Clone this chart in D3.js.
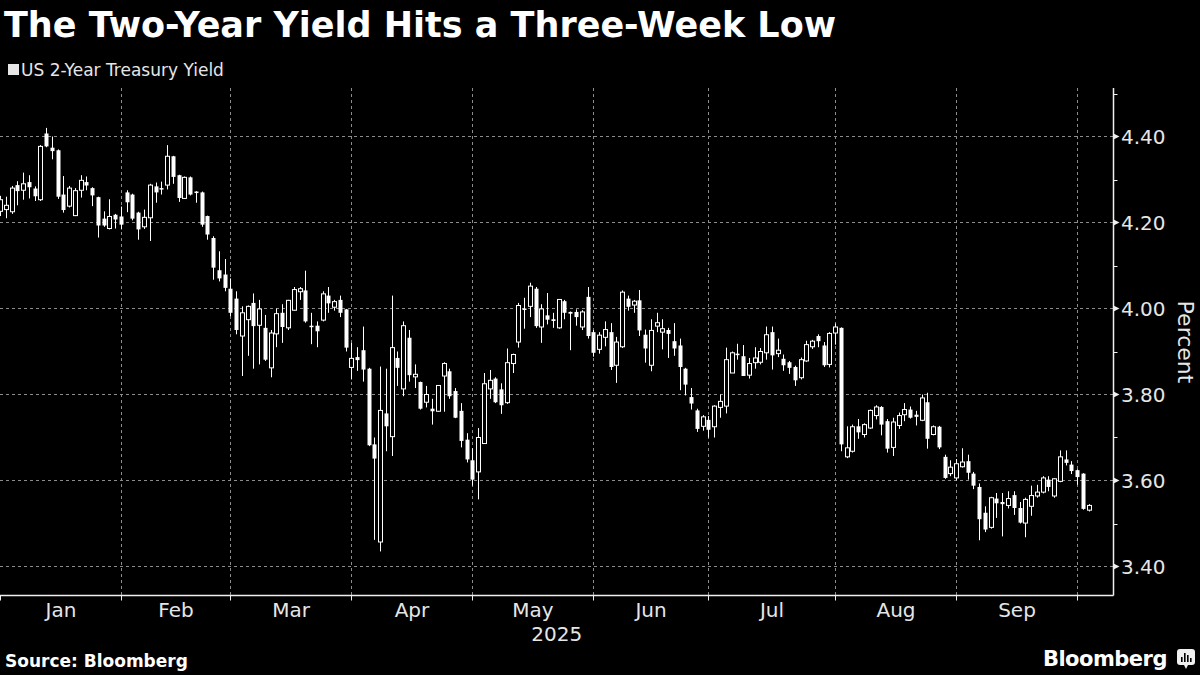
<!DOCTYPE html>
<html>
<head>
<meta charset="utf-8">
<script src="https://cdn.jsdelivr.net/npm/d3@7"></script>
<style>
  body { margin: 0; background: #000; }
  svg { display: block; }
  text { font-family: "DejaVu Sans", sans-serif; fill: #e6e6e6; }
</style>
</head>
<body>
<svg id="chart"></svg>
<script>
// trading days: weekdays from Dec 31 2024 to Oct 2 2025, minus these holidays
var firstDay = "2024-12-31"
var lastDay = "2025-10-02"
var holidays = ["2025-01-01", "2025-01-20", "2025-02-17", "2025-04-18",
  "2025-05-26", "2025-06-19", "2025-07-04", "2025-09-01"]

var monthLabels = ["Jan", "Feb", "Mar", "Apr", "May", "Jun", "Jul", "Aug", "Sep"]
var yTicks = [3.40, 3.60, 3.80, 4.00, 4.20, 4.40]
var yMinorTicks = [3.50, 3.70, 3.90, 4.10, 4.30, 4.50]

// OHLC, one value per trading day
var open = [
  4.226, 4.230, 4.225, 4.287, 4.275, 4.294, 4.279, 4.253, 4.407, 4.374,
  4.368, 4.265, 4.238, 4.216, 4.275, 4.294, 4.280, 4.259, 4.209, 4.186,
  4.218, 4.214, 4.270, 4.265, 4.223, 4.190, 4.211, 4.284, 4.280, 4.287,
  4.354, 4.310, 4.256, 4.305, 4.272, 4.270, 4.215, 4.164, 4.089, 4.079,
  4.046, 4.023, 3.936, 3.974, 4.013, 3.961, 3.955, 3.862, 3.941, 3.990,
  3.955, 3.996, 4.039, 4.042, 3.960, 3.960, 3.973, 4.030, 4.003, 4.020,
  3.998, 3.863, 3.887, 3.903, 3.860, 3.684, 3.457, 3.756, 3.702, 3.885,
  3.813, 3.932, 3.841, 3.829, 3.782, 3.767, 3.761, 3.843, 3.854, 3.808,
  3.762, 3.695, 3.647, 3.620, 3.686, 3.813, 3.837, 3.812, 3.781, 3.872,
  3.922, 4.000, 4.005, 4.046, 3.957, 3.984, 3.975, 3.955, 4.017, 3.992,
  3.992, 3.957, 4.027, 3.945, 3.905, 3.933, 3.945, 3.868, 3.911, 4.023,
  4.008, 4.019, 3.939, 3.868, 3.959, 3.945, 3.950, 3.924, 3.914, 3.860,
  3.794, 3.763, 3.726, 3.741, 3.725, 3.770, 3.773, 3.850, 3.895, 3.889,
  3.845, 3.874, 3.875, 3.897, 3.945, 3.895, 3.883, 3.875, 3.864, 3.839,
  3.878, 3.911, 3.936, 3.914, 3.870, 3.943, 3.955, 3.655, 3.668, 3.726,
  3.707, 3.722, 3.751, 3.771, 3.738, 3.677, 3.728, 3.753, 3.765, 3.753,
  3.740, 3.782, 3.707, 3.725, 3.655, 3.616, 3.606, 3.632, 3.645, 3.616,
  3.585, 3.525, 3.491, 3.558, 3.550, 3.542, 3.566, 3.536, 3.501, 3.540,
  3.564, 3.573, 3.602, 3.564, 3.598, 3.649, 3.637, 3.624, 3.616, 3.531
]
var high = [
  4.262, 4.260, 4.285, 4.296, 4.316, 4.310, 4.284, 4.380, 4.420, 4.400,
  4.370, 4.308, 4.285, 4.280, 4.310, 4.307, 4.282, 4.260, 4.226, 4.254,
  4.220, 4.237, 4.275, 4.267, 4.225, 4.230, 4.290, 4.293, 4.295, 4.380,
  4.355, 4.311, 4.307, 4.307, 4.273, 4.272, 4.216, 4.168, 4.133, 4.115,
  4.070, 4.040, 4.005, 4.007, 4.035, 4.020, 3.985, 3.950, 4.000, 4.010,
  4.020, 4.050, 4.050, 4.088, 3.990, 3.970, 4.040, 4.050, 4.020, 4.030,
  3.999, 3.920, 3.910, 3.958, 3.862, 3.700, 3.865, 3.860, 4.030, 3.900,
  3.970, 3.950, 3.870, 3.830, 3.820, 3.790, 3.822, 3.875, 3.860, 3.815,
  3.780, 3.710, 3.675, 3.722, 3.850, 3.857, 3.840, 3.826, 3.907, 3.895,
  4.013, 4.025, 4.060, 4.050, 4.010, 4.036, 3.990, 4.022, 4.020, 3.993,
  3.998, 3.996, 4.050, 3.950, 3.945, 3.970, 3.966, 3.934, 4.042, 4.030,
  4.020, 4.043, 3.951, 3.975, 3.990, 3.975, 3.955, 3.966, 3.930, 3.862,
  3.815, 3.767, 3.752, 3.750, 3.775, 3.800, 3.909, 3.900, 3.918, 3.915,
  3.885, 3.910, 3.908, 3.958, 3.958, 3.930, 3.893, 3.878, 3.867, 3.886,
  3.925, 3.927, 3.940, 3.922, 3.945, 3.965, 3.956, 3.726, 3.730, 3.743,
  3.733, 3.765, 3.775, 3.773, 3.743, 3.746, 3.758, 3.780, 3.772, 3.762,
  3.800, 3.804, 3.728, 3.727, 3.660, 3.647, 3.650, 3.675, 3.660, 3.620,
  3.593, 3.540, 3.562, 3.571, 3.571, 3.575, 3.575, 3.550, 3.560, 3.588,
  3.590, 3.610, 3.610, 3.605, 3.670, 3.670, 3.645, 3.626, 3.617, 3.545
]
var low = [
  4.215, 4.210, 4.220, 4.240, 4.253, 4.256, 4.250, 4.250, 4.375, 4.347,
  4.255, 4.223, 4.235, 4.215, 4.258, 4.275, 4.238, 4.165, 4.190, 4.184,
  4.186, 4.184, 4.224, 4.205, 4.160, 4.185, 4.157, 4.246, 4.265, 4.277,
  4.290, 4.248, 4.255, 4.263, 4.246, 4.190, 4.160, 4.067, 4.063, 4.040,
  3.982, 3.940, 3.843, 3.890, 3.860, 3.870, 3.878, 3.840, 3.910, 3.920,
  3.950, 3.995, 4.020, 3.967, 3.917, 3.910, 3.970, 3.990, 3.995, 3.980,
  3.900, 3.835, 3.855, 3.830, 3.680, 3.462, 3.435, 3.668, 3.657, 3.820,
  3.796, 3.830, 3.815, 3.765, 3.770, 3.730, 3.760, 3.760, 3.790, 3.745,
  3.677, 3.642, 3.588, 3.556, 3.686, 3.790, 3.780, 3.755, 3.778, 3.850,
  3.909, 3.953, 3.980, 3.955, 3.920, 3.963, 3.955, 3.953, 3.975, 3.903,
  3.960, 3.950, 3.930, 3.888, 3.895, 3.912, 3.857, 3.827, 3.908, 3.995,
  3.990, 3.936, 3.874, 3.854, 3.945, 3.905, 3.885, 3.890, 3.810, 3.798,
  3.765, 3.713, 3.716, 3.700, 3.700, 3.746, 3.756, 3.850, 3.881, 3.843,
  3.837, 3.860, 3.870, 3.881, 3.858, 3.887, 3.855, 3.848, 3.820, 3.835,
  3.876, 3.906, 3.910, 3.864, 3.863, 3.916, 3.668, 3.652, 3.665, 3.697,
  3.700, 3.720, 3.742, 3.705, 3.665, 3.657, 3.720, 3.738, 3.744, 3.728,
  3.738, 3.674, 3.705, 3.673, 3.604, 3.610, 3.600, 3.630, 3.602, 3.580,
  3.461, 3.480, 3.488, 3.513, 3.470, 3.535, 3.520, 3.500, 3.468, 3.518,
  3.560, 3.570, 3.575, 3.560, 3.596, 3.635, 3.615, 3.590, 3.532, 3.528
]
var close = [
  4.253, 4.240, 4.280, 4.273, 4.290, 4.282, 4.261, 4.377, 4.377, 4.366,
  4.260, 4.229, 4.280, 4.274, 4.298, 4.286, 4.263, 4.193, 4.193, 4.214,
  4.207, 4.195, 4.247, 4.209, 4.184, 4.212, 4.287, 4.270, 4.277, 4.354,
  4.306, 4.257, 4.305, 4.265, 4.270, 4.195, 4.172, 4.095, 4.070, 4.048,
  3.990, 3.950, 3.990, 4.005, 3.959, 3.999, 3.881, 3.943, 3.988, 3.957,
  4.019, 4.044, 4.046, 3.970, 3.958, 3.947, 4.034, 4.012, 4.016, 3.990,
  3.909, 3.884, 3.880, 3.858, 3.682, 3.651, 3.763, 3.726, 3.909, 3.862,
  3.960, 3.845, 3.847, 3.767, 3.800, 3.761, 3.821, 3.872, 3.796, 3.746,
  3.692, 3.649, 3.602, 3.700, 3.825, 3.833, 3.782, 3.775, 3.874, 3.893,
  4.007, 3.998, 4.052, 3.959, 3.999, 3.974, 3.971, 4.021, 3.990, 3.988,
  3.980, 3.992, 3.936, 3.897, 3.938, 3.951, 3.864, 3.922, 4.038, 4.004,
  4.017, 3.949, 3.907, 3.949, 3.967, 3.953, 3.941, 3.907, 3.864, 3.823,
  3.779, 3.720, 3.748, 3.718, 3.773, 3.784, 3.881, 3.897, 3.893, 3.843,
  3.872, 3.885, 3.900, 3.939, 3.891, 3.903, 3.868, 3.862, 3.833, 3.881,
  3.916, 3.924, 3.924, 3.868, 3.942, 3.957, 3.684, 3.676, 3.725, 3.712,
  3.730, 3.763, 3.771, 3.730, 3.674, 3.736, 3.751, 3.765, 3.746, 3.748,
  3.792, 3.697, 3.725, 3.677, 3.606, 3.631, 3.639, 3.643, 3.618, 3.588,
  3.510, 3.486, 3.560, 3.547, 3.545, 3.558, 3.536, 3.502, 3.556, 3.565,
  3.573, 3.606, 3.585, 3.604, 3.655, 3.641, 3.622, 3.608, 3.534, 3.542
]

var width = 1200
var height = 675
var plot = {left: 0, right: 1113.5, top: 88, bottom: 595.5}
var step = 5.76

var svg = d3.select("#chart")
  .attr("width", width)
  .attr("height", height)
  .style("background", "#000")

var parse = d3.timeParse("%Y-%m-%d")
var fmt = d3.timeFormat("%Y-%m-%d")
var days = d3.timeDay.range(parse(firstDay), d3.timeDay.offset(parse(lastDay), 1))
  .filter(function(d) { return d.getDay() != 0 && d.getDay() != 6 && holidays.indexOf(fmt(d)) < 0 })

var candles = days.map(function(d, i) {
  return {date: d, o: open[i], h: high[i], l: low[i], c: close[i]}
})

var x = d3.scalePoint()
  .domain(days)
  .range([0, (days.length - 1) * step])

var y = d3.scaleLinear()
  .domain([3.40, 4.40])
  .range([566.5, 136.5])

// last trading day of each 2025 month -> gridline
var monthEnds = d3.groups(days.filter(function(d) { return d.getFullYear() == 2025 }),
    function(d) { return d.getMonth() })
  .map(function(g) { return g[1][g[1].length - 1] })
  .slice(0, monthLabels.length)

var grid = svg.append("g").attr("class", "grid")

grid.selectAll("line.h")
  .data(yTicks)
  .enter()
  .append("line")
  .attr("x1", plot.left)
  .attr("x2", plot.right)
  .attr("y1", function(d) { return y(d) })
  .attr("y2", function(d) { return y(d) })
  .attr("stroke", "#8c8c8c")
  .attr("stroke-width", 1)
  .attr("stroke-dasharray", "3,3")

grid.selectAll("line.v")
  .data(monthEnds)
  .enter()
  .append("line")
  .attr("x1", function(d) { return Math.round(x(d)) + 0.5 })
  .attr("x2", function(d) { return Math.round(x(d)) + 0.5 })
  .attr("y1", plot.top)
  .attr("y2", plot.bottom)
  .attr("stroke", "#8c8c8c")
  .attr("stroke-width", 1)
  .attr("stroke-dasharray", "3,3")

// candles
var cg = svg.append("g").attr("class", "candles")

var cx = function(d) { return Math.round(x(d.date)) + 0.5 }

cg.selectAll("line.wick")
  .data(candles)
  .enter()
  .append("line")
  .attr("x1", cx)
  .attr("x2", cx)
  .attr("y1", function(d) { return y(d.h) })
  .attr("y2", function(d) { return y(d.l) })
  .attr("stroke", "#fff")
  .attr("stroke-width", 1)

cg.selectAll("rect.body")
  .data(candles)
  .enter()
  .append("rect")
  .attr("x", function(d) { return cx(d) - 2 })
  .attr("y", function(d) { return y(Math.max(d.o, d.c)) })
  .attr("width", 4)
  .attr("height", function(d) { return Math.max(1.5, Math.abs(y(d.o) - y(d.c))) })
  .attr("fill", function(d) { return d.c > d.o ? "#000" : "#fff" })
  .attr("stroke", "#fff")
  .attr("stroke-width", function(d) { return d.c > d.o ? 1 : 0 })

// axes
svg.append("line")
  .attr("x1", plot.left).attr("x2", plot.right)
  .attr("y1", plot.bottom).attr("y2", plot.bottom)
  .attr("stroke", "#f0f0f0").attr("stroke-width", 1.5)

svg.append("line")
  .attr("x1", plot.right).attr("x2", plot.right)
  .attr("y1", plot.top).attr("y2", plot.bottom)
  .attr("stroke", "#f0f0f0").attr("stroke-width", 1.5)

var xTickPos = [0.5].concat(monthEnds.map(function(d) { return Math.round(x(d)) + 0.5 }))

svg.selectAll("line.xtick")
  .data(xTickPos)
  .enter()
  .append("line")
  .attr("x1", function(d) { return d })
  .attr("x2", function(d) { return d })
  .attr("y1", plot.bottom)
  .attr("y2", plot.bottom + 5)
  .attr("stroke", "#f0f0f0")

svg.selectAll("text.month")
  .data(monthLabels)
  .enter()
  .append("text")
  .attr("x", function(d, i) { return (xTickPos[i] + xTickPos[i + 1]) / 2 })
  .attr("y", 617)
  .attr("text-anchor", "middle")
  .style("font-size", "20px")
  .text(function(d) { return d })

svg.append("text")
  .attr("x", plot.right / 2)
  .attr("y", 641)
  .attr("text-anchor", "middle")
  .style("font-size", "20px")
  .text("2025")

// right axis: minor ticks, arrow ticks, labels
svg.selectAll("line.minor")
  .data(yMinorTicks)
  .enter()
  .append("line")
  .attr("x1", plot.right)
  .attr("x2", plot.right + 4)
  .attr("y1", function(d) { return Math.round(y(d)) + 0.5 })
  .attr("y2", function(d) { return Math.round(y(d)) + 0.5 })
  .attr("stroke", "#f0f0f0")

svg.selectAll("path.arrow")
  .data(yTicks)
  .enter()
  .append("path")
  .attr("d", function(d) {
    var yy = y(d)
    return "M" + plot.right + "," + (yy - 3) + "L" + (plot.right + 6) + "," + yy + "L" + plot.right + "," + (yy + 3) + "Z"
  })
  .attr("fill", "#f0f0f0")

svg.selectAll("text.ytick")
  .data(yTicks)
  .enter()
  .append("text")
  .attr("x", 1121)
  .attr("y", function(d) { return y(d) })
  .attr("dy", "0.36em")
  .style("font-size", "20px")
  .text(function(d) { return d.toFixed(2) })

svg.append("text")
  .attr("transform", "translate(1178,342) rotate(90)")
  .attr("text-anchor", "middle")
  .style("font-size", "22px")
  .text("Percent")

// title, legend, footer
svg.append("text")
  .attr("x", 4)
  .attr("y", 37)
  .style("font-size", "35px")
  .style("font-weight", "bold")
  .style("fill", "#fff")
  .text("The Two-Year Yield Hits a Three-Week Low")

svg.append("rect")
  .attr("x", 8).attr("y", 64)
  .attr("width", 11).attr("height", 11)
  .attr("fill", "#e6e6e6")

svg.append("text")
  .attr("x", 21)
  .attr("y", 76)
  .style("font-size", "17px")
  .text("US 2-Year Treasury Yield")

svg.append("text")
  .attr("x", 5)
  .attr("y", 667)
  .style("font-size", "17px")
  .style("font-weight", "bold")
  .style("fill", "#fff")
  .text("Source: Bloomberg")

svg.append("text")
  .attr("x", 1167)
  .attr("y", 666)
  .attr("text-anchor", "end")
  .style("font-size", "21px")
  .style("font-weight", "bold")
  .style("fill", "#fff")
  .style("letter-spacing", "-0.5px")
  .text("Bloomberg")

var logo = svg.append("g").attr("transform", "translate(1177,649)")
logo.append("rect")
  .attr("width", 18).attr("height", 16).attr("rx", 3)
  .attr("fill", "#f0f0f0")
logo.append("path")
  .attr("d", "M7,16L9,20L11,16Z")
  .attr("fill", "#f0f0f0")
logo.selectAll("rect.bar")
  .data([[4, 8], [7, 4], [10, 6], [13, 9]])
  .enter()
  .append("rect")
  .attr("x", function(d) { return d[0] })
  .attr("y", function(d) { return d[1] })
  .attr("width", 1.6)
  .attr("height", function(d) { return 13 - d[1] })
  .attr("fill", "#000")
</script>
</body>
</html>
